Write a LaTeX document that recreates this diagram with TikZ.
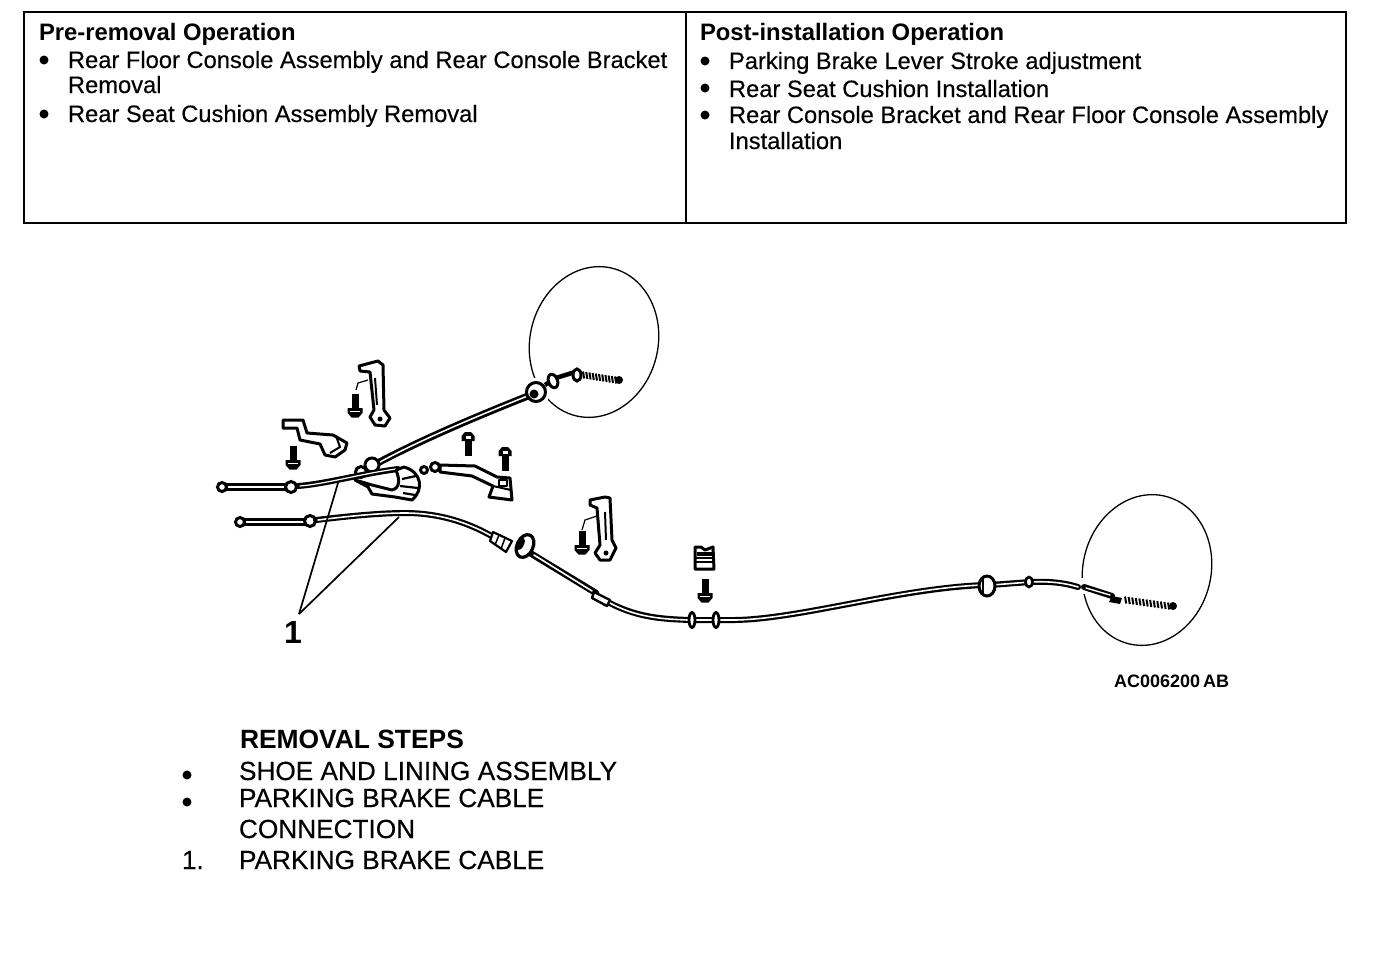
\documentclass[tikz,border=0pt]{standalone}
\usepackage{fontspec}
\setmainfont{Liberation Sans}
\newfontfamily\scanreg[FakeBold=0.3]{Liberation Sans}
\newfontfamily\scanbold[FakeBold=0.3]{Liberation Sans Bold}
\usetikzlibrary{calc}
\tikzset{
  x=1pt,y=-1pt,
  txt/.style={anchor=base west,inner sep=0pt,outer sep=0pt,font=\scanreg\fontsize{23.7}{28}\selectfont},
  txtb/.style={anchor=base west,inner sep=0pt,outer sep=0pt,font=\bfseries\fontsize{23.8}{28}\selectfont},
  txtl/.style={anchor=base west,inner sep=0pt,outer sep=0pt,font=\scanreg\fontsize{26.2}{30}\selectfont},
  txtlb/.style={anchor=base west,inner sep=0pt,outer sep=0pt,font=\bfseries\fontsize{26.4}{30}\selectfont},
  bul/.style={circle,fill=black,inner sep=0pt,minimum size=9pt},
  frame/.style={line width=2pt,draw=black},
  thin leader/.style={line width=1.7pt,draw=black},
  part/.style={line width=3pt,draw=black,fill=white,line join=round},
  rod/.style={draw=black,line cap=round},
  rodin/.style={draw=white,line cap=round},
  grom/.style={line width=3pt,draw=black,fill=white},
  pics/boltdown/.style={code={
    \fill (-3.5,-12) rectangle (3.5,4);
    \fill (-7.5,2) -- (7.5,2) -- (7.5,7) -- (3.5,11.5) -- (-3.5,11.5) -- (-7.5,7) -- cycle;
    \draw[white,line width=.7pt] (-5,5) -- (5,5);
  }},
  pics/boltup/.style={code={
    \fill (-3.5,-4) rectangle (3.5,13);
    \fill (-6.5,-2) -- (6.5,-2) -- (6.5,-7) -- (3,-11) -- (-3,-11) -- (-6.5,-7) -- cycle;
    \fill[white] (-2.5,-7) rectangle (2.5,-4);
  }},
}
\newcommand{\spr}[5]{% x1 y1 x2 y2 n
  \foreach \k in {0,...,#5}{
    \pgfmathsetmacro{\px}{#1+(#3-#1)*\k/#5}
    \pgfmathsetmacro{\py}{#2+(#4-#2)*\k/#5}
    \draw[line width=2pt] (\px,\py-3.5) -- (\px+1.2,\py+3.5);
  }}
\begin{document}
\begin{tikzpicture}
\useasboundingbox (0,0) rectangle (1376,970);
\fill[white] (0,0) rectangle (1376,970);
% table
\draw[frame] (24,12) rectangle (1346,223);
\draw[frame] (686,12) -- (686,223);
\node[txtb] (h1) at (39,40) {Pre-removal Operation};
\node[bul] (b1) at (44,60) {};
\node[txt] (l1) at (68,68) {Rear Floor Console Assembly and Rear Console Bracket};
\node[txt] (l2) at (68,93) {Removal};
\node[bul] (b2) at (44,114) {};
\node[txt] (l3) at (68,122) {Rear Seat Cushion Assembly Removal};
\node[txtb] (h2) at (700,40) {Post-installation Operation};
\node[bul] (b3) at (705,61) {};
\node[txt] (r1) at (729,69) {Parking Brake Lever Stroke adjustment};
\node[bul] (b4) at (705,88) {};
\node[txt] (r2) at (729,97) {Rear Seat Cushion Installation};
\node[bul] (b5) at (705,115) {};
\node[txt] (r3) at (729,123) {Rear Console Bracket and Rear Floor Console Assembly};
\node[txt] (r4) at (729,149) {Installation};

% detail ellipses
\draw[line width=1.3pt] (594,342) ellipse [x radius=64,y radius=76,rotate=-14];
\draw[line width=1.3pt] (1147,570) ellipse [x radius=64,y radius=76,rotate=-14];
\fill[white] (1076,578) rectangle (1088,594);
\fill[white] (522,378) rectangle (548,410);

% upper cable
\draw[rod,line width=7pt] (372,466) .. controls (420,440) and (480,415) .. (538,392);
\draw[rodin,line width=1.5pt] (380,462) .. controls (420,440) and (480,415) .. (530,395);
\draw[grom] (536,392) circle [radius=9.5];
\fill (534,394) circle (4.5);
\draw[line width=4.5pt] (545,385) -- (556,378) -- (575,372);
\draw[grom] (553,381) ellipse [x radius=4.5,y radius=7,rotate=20];
\draw[grom] (577,375) ellipse [x radius=4,y radius=6];
\spr{583}{375}{615}{380}{10}
\fill (619,380) circle (4);
\draw[grom] (372,465) circle (7);
\draw[grom] (361,472) circle (5.5);

% upper left rod and cable
\draw[rod,line width=7.5pt] (222,487) -- (291,487);
\draw[rodin,line width=1.6pt] (226,487) -- (287,487);
\draw[grom] (222,487) circle (4.5);
\draw[grom] (291,487) circle (5.5);
\draw[rod,line width=6pt] (298,486) .. controls (325,484) and (360,474) .. (398,469);
\draw[rodin,line width=1.2pt] (300,486) .. controls (325,484) and (360,474) .. (396,469);
% folded coil
\draw[part] (355,480) -- (368,487) -- (372,494) -- (395,497) -- (412,500) .. controls (424,490) and (422,472) .. (404,467) -- (396,470) .. controls (400,480) and (400,488) .. (392,490) -- (372,485) -- cycle;
\draw[line width=2.2pt] (402,479) -- (416,476) (400,486) -- (418,488) (403,493) -- (415,495);

% bracket upper left
\draw[part] (359,366) -- (378,361) -- (383,365) -- (384,410) -- (390,418) -- (385,426) -- (375,425) -- (370,417) -- (374,410) -- (370,372) -- (360,371) -- cycle;
\draw[line width=2pt] (375,378) -- (377,405);
\draw[line width=1.2pt] (368,380) -- (358,383) -- (356,390);
\fill (380,419) circle (2.5);
\pic at (355,406) {boltdown};

% bracket B
\draw[part] (283,420) -- (303,420) -- (307,433) -- (333,435) -- (347,443) -- (345,450) -- (335,457) -- (325,455) -- (320,444) -- (300,440) -- (297,428) -- (283,428) -- cycle;
\draw[line width=2pt] (336,436) -- (340,447) -- (330,453);
\pic at (293,458) {boltdown};

% bracket right
\draw[part] (424,470) circle (3.5);
\draw[part] (435,467) circle (4.5);
\draw[part] (440,465) -- (475,466) -- (497,477) -- (510,478) -- (512,500) -- (489,497) -- (493,486) -- (472,476) -- (440,472) -- cycle;
\draw[line width=2pt] (493,486) -- (511,490);
\draw[part,line width=2pt] (499,480) rectangle (507,486);
\pic at (468,443) {boltup};
\pic at (505,458) {boltup};

% lower cable
\draw[rod,line width=7.5pt] (240,522) -- (310,522);
\draw[rodin,line width=1.6pt] (244,522) -- (306,522);
\draw[grom] (240,522) circle (4.5);
\draw[grom] (310,521) circle (5.5);
\draw[rod,line width=6pt] (316,520) .. controls (350,516) and (380,513) .. (405,513) .. controls (440,513) and (470,523) .. (495,538);
\draw[rodin,line width=1.6pt] (318,520) .. controls (350,516) and (380,513) .. (405,513) .. controls (440,513) and (470,523) .. (495,538);
\draw[rod,line width=6.5pt] (530,553) -- (596,593);
\draw[rodin,line width=1.6pt] (534,555) -- (592,591);
\draw[rod,line width=6pt] (606,601) .. controls (635,617) and (660,619) .. (690,620);
\draw[rodin,line width=1.6pt] (608,602) .. controls (635,617) and (660,619) .. (688,620);
\draw[rod,line width=6pt] (692,620) -- (735,620) .. controls (800,619) and (900,588) .. (985,585);
\draw[rodin,line width=1.6pt] (694,620) -- (735,620) .. controls (800,619) and (900,588) .. (983,585);
\draw[rod,line width=6pt] (990,585) -- (1030,582) .. controls (1050,581) and (1065,583) .. (1078,587);
\draw[rodin,line width=1.6pt] (992,585) -- (1030,582) .. controls (1050,581) and (1065,583) .. (1078,587);
\draw[rod,line width=6pt] (1084,587) -- (1112,596);
\draw[rodin,line width=1.4pt] (1086,588) -- (1110,595);
% fittings on lower cable
\draw[part,line width=2.2pt] (493,532) -- (512,541) -- (506,552) -- (490,541) -- cycle;
\draw[line width=1.5pt] (499,535) -- (495,545) (505,538) -- (501,549);
\draw[grom,line width=3.2pt] (525,546) ellipse [x radius=8,y radius=12,rotate=-25];
\fill (521,544) ellipse [x radius=3,y radius=6.5,rotate=-25];
\draw[part,line width=2.4pt] (594,592) -- (610,600) -- (607,606) -- (592,598) -- cycle;
\draw[grom,line width=2.8pt] (692,620) ellipse [x radius=3,y radius=7.5];
\draw[grom,line width=2.8pt] (716,620) ellipse [x radius=3,y radius=7.5];
\draw[grom,line width=3pt] (987,586) ellipse [x radius=8,y radius=10];
\draw[line width=2pt] (983,578) -- (983,594);
\draw[grom,line width=2.6pt] (1029,582) ellipse [x radius=3.5,y radius=5];
\fill (1112,596) -- (1122,598) -- (1120,604) -- (1109,602) -- cycle;
\spr{1125}{600}{1168}{606}{12}
\fill (1173,606) circle (4);

% bracket lower
\draw[part] (590,500) -- (605,497) -- (610,498) -- (612,540) -- (616,548) -- (610,560) -- (600,560) -- (595,553) -- (600,545) -- (597,508) -- (590,505) -- cycle;
\draw[line width=2pt] (605,512) -- (606,540);
\draw[line width=1.2pt] (597,516) -- (585,520) -- (582,530);
\fill (606,553) circle (2.5);
\pic at (582,543) {boltdown};
% clip and bolt
\draw[part] (695,547) -- (701,547) -- (705,550) -- (713,547) -- (714,569) -- (695,569) -- cycle;
\draw[line width=2pt] (696,558) -- (714,558) (696,562) -- (714,562);
\fill (697,552) rectangle (712,556);
\pic at (705,591) {boltdown};

% leaders
\node[anchor=base,inner sep=0pt,font=\bfseries\fontsize{32}{32}\selectfont] (one) at (293,643) {1};
\coordinate (apex) at (299,614);
\coordinate (t1) at (338,483);
\coordinate (t2) at (399,517);
\draw[thin leader] (apex) -- (t1);
\draw[thin leader] (apex) -- (t2);

\node[anchor=base west,inner sep=0pt,font=\bfseries\fontsize{18}{20}\selectfont] (code) at (1114,687) {AC006200\,AB};

% steps
\node[txtlb] (s0) at (240,748) {REMOVAL STEPS};
\node[bul] (b6) at (187,775) {};
\node[txtl] (s1) at (239,780) {SHOE AND LINING ASSEMBLY};
\node[bul] (b7) at (187,802) {};
\node[txtl] (s2) at (239,807) {PARKING BRAKE CABLE};
\node[txtl] (s3) at (239,838) {CONNECTION};
\node[txtl] (s4n) at (182,869) {1.};
\node[txtl] (s4) at (239,869) {PARKING BRAKE CABLE};
\end{tikzpicture}
\end{document}
